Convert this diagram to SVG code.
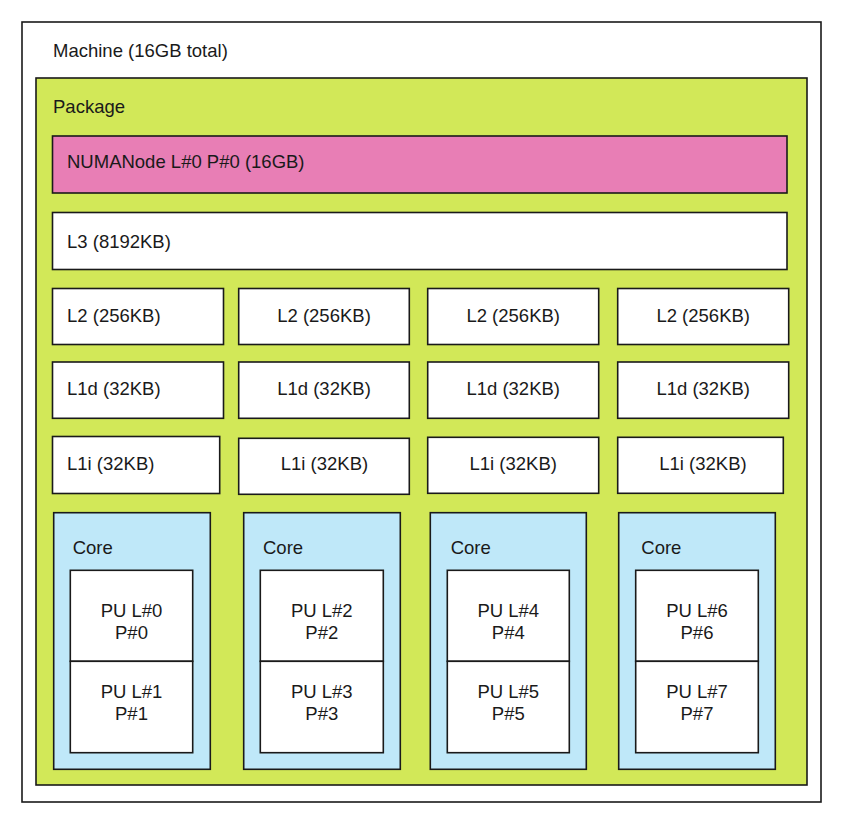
<svg xmlns="http://www.w3.org/2000/svg" width="842" height="825" viewBox="0 0 842 825">
<style>
rect{stroke:#1a1a1a;stroke-width:1.6}
.w{fill:#ffffff}
.g{fill:#D2E858}
.p{fill:#E87EB5}
.b{fill:#BFE8F9}
text{font-family:"Liberation Sans",Arial,sans-serif;font-size:18.5px;fill:#1a1a1a}
.c{text-anchor:middle}
</style>
<rect x="0" y="0" width="842" height="825" style="fill:#ffffff;stroke:none"/>
<g id="machine">
<rect class="w" x="22" y="22" width="799" height="780"/>
<text x="53" y="57">Machine (16GB total)</text>
</g>
<g id="package">
<rect class="g" x="36" y="78" width="771" height="707"/>
<text x="53" y="112.5">Package</text>
</g>
<g id="numanode">
<rect class="p" x="52.5" y="136" width="734.5" height="57"/>
<text x="67" y="168">NUMANode L#0 P#0 (16GB)</text>
</g>
<g id="l3">
<rect class="w" x="52.5" y="212.5" width="734.5" height="57"/>
<text x="67" y="247.5">L3 (8192KB)</text>
</g>
<g id="l2-0"><rect class="w" x="52.5" y="288.5" width="171" height="56"/><text x="67" y="321.5">L2 (256KB)</text></g>
<g id="l2-1"><rect class="w" x="238.7" y="288.5" width="170.6" height="56"/><text class="c" x="324" y="321.5">L2 (256KB)</text></g>
<g id="l2-2"><rect class="w" x="427.7" y="288.5" width="171" height="56"/><text class="c" x="513.2" y="321.5">L2 (256KB)</text></g>
<g id="l2-3"><rect class="w" x="617.7" y="288.5" width="171" height="56"/><text class="c" x="703.2" y="321.5">L2 (256KB)</text></g>
<g id="l1d-0"><rect class="w" x="52.5" y="362" width="171" height="56.3"/><text x="67" y="395">L1d (32KB)</text></g>
<g id="l1d-1"><rect class="w" x="238.7" y="362" width="170.6" height="56.3"/><text class="c" x="324" y="395">L1d (32KB)</text></g>
<g id="l1d-2"><rect class="w" x="427.7" y="362" width="171" height="56.3"/><text class="c" x="513.2" y="395">L1d (32KB)</text></g>
<g id="l1d-3"><rect class="w" x="617.7" y="362" width="171" height="56.3"/><text class="c" x="703.2" y="395">L1d (32KB)</text></g>
<g id="l1i-0"><rect class="w" x="52.5" y="436.5" width="167.2" height="57"/><text x="67" y="470">L1i (32KB)</text></g>
<g id="l1i-1"><rect class="w" x="238.7" y="438.3" width="170.6" height="56"/><text class="c" x="324.5" y="470">L1i (32KB)</text></g>
<g id="l1i-2"><rect class="w" x="427.7" y="437.3" width="171" height="56"/><text class="c" x="513.2" y="470">L1i (32KB)</text></g>
<g id="l1i-3"><rect class="w" x="617.7" y="437.3" width="165.6" height="56"/><text class="c" x="703" y="470">L1i (32KB)</text></g>
<g id="core-0">
<rect class="b" x="53.7" y="512.7" width="156.6" height="256.6"/>
<text x="72.7" y="553.5">Core</text>
</g>
<g id="core-1">
<rect class="b" x="243.7" y="512.7" width="156.6" height="256.6"/>
<text x="263" y="553.5">Core</text>
</g>
<g id="core-2">
<rect class="b" x="430.3" y="512.7" width="156" height="256.6"/>
<text x="450.7" y="553.5">Core</text>
</g>
<g id="core-3">
<rect class="b" x="618.7" y="512.7" width="156.6" height="256.6"/>
<text x="641.3" y="553.5">Core</text>
</g>
<g id="pu-0"><rect class="w" x="70.3" y="570.3" width="122.4" height="91"/><text class="c" x="131.5" y="616.7">PU L#0</text><text class="c" x="131.5" y="638.5">P#0</text></g>
<g id="pu-1"><rect class="w" x="70.3" y="661.3" width="122.4" height="91.4"/><text class="c" x="131.5" y="697.7">PU L#1</text><text class="c" x="131.5" y="720">P#1</text></g>
<g id="pu-2"><rect class="w" x="260.3" y="570.3" width="123" height="91"/><text class="c" x="321.8" y="616.7">PU L#2</text><text class="c" x="321.8" y="638.5">P#2</text></g>
<g id="pu-3"><rect class="w" x="260.3" y="661.3" width="123" height="91.4"/><text class="c" x="321.8" y="697.7">PU L#3</text><text class="c" x="321.8" y="720">P#3</text></g>
<g id="pu-4"><rect class="w" x="447.3" y="570.3" width="122" height="91"/><text class="c" x="508.3" y="616.7">PU L#4</text><text class="c" x="508.3" y="638.5">P#4</text></g>
<g id="pu-5"><rect class="w" x="447.3" y="661.3" width="122" height="91.4"/><text class="c" x="508.3" y="697.7">PU L#5</text><text class="c" x="508.3" y="720">P#5</text></g>
<g id="pu-6"><rect class="w" x="635.7" y="570.3" width="122.6" height="91"/><text class="c" x="697" y="616.7">PU L#6</text><text class="c" x="697" y="638.5">P#6</text></g>
<g id="pu-7"><rect class="w" x="635.7" y="661.3" width="122.6" height="91.4"/><text class="c" x="697" y="697.7">PU L#7</text><text class="c" x="697" y="720">P#7</text></g>
<g id="connectors"></g>
</svg>
